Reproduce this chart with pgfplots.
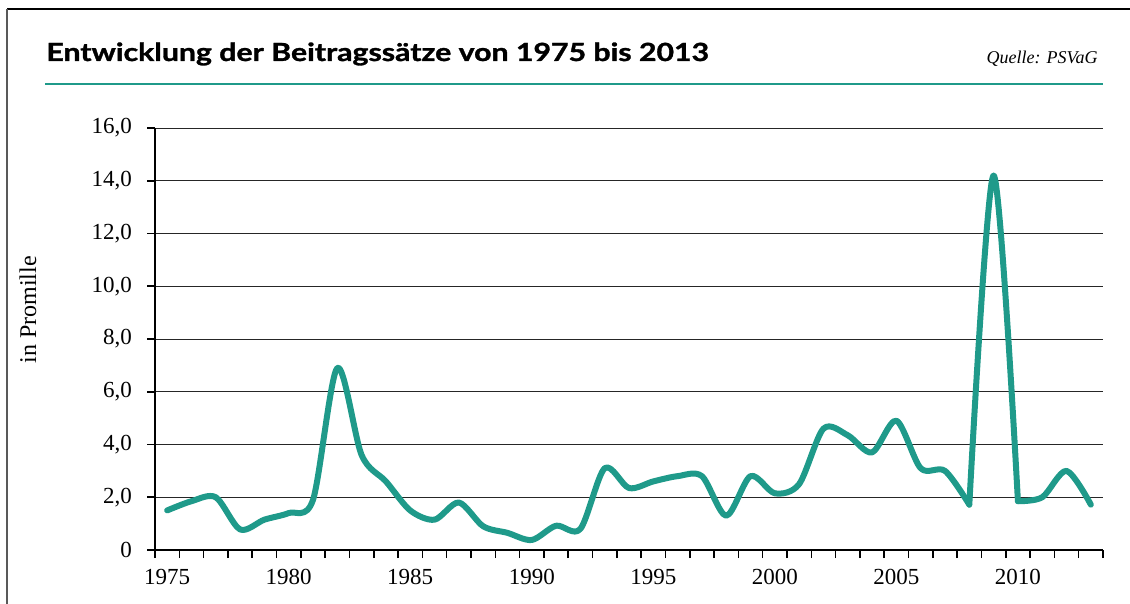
\documentclass[border=0pt]{standalone}
\usepackage{graphicx}
\usepackage{pgfplots}
\pgfplotsset{compat=1.18}
\usepackage{fontspec}
\setmainfont{Liberation Serif}
\newfontfamily\titlefont[BoldFeatures={FakeBold=1.2}]{Lato}
\definecolor{teal1}{RGB}{31,154,138}
\begin{document}
\begin{tikzpicture}
\begin{scope}[x=0.5pt,y=-0.5pt]
\path[use as bounding box] (0,0) rectangle (1130,604);
\draw[black, line width=0.8pt] (7,9) -- (1130,9);
\draw[black!65, line width=0.8pt] (7,9) -- (7,604);
\node[anchor=base west, inner sep=0, font=\titlefont\bfseries\fontsize{12.5}{14}\selectfont] at (46,61) {\scalebox{1.21}[1]{Entwicklung der Beitragssätze von 1975 bis 2013}};
\node[anchor=base east, inner sep=0, font=\itshape\fontsize{9}{11}\selectfont] at (1098,64) {Quelle: PSVaG};
\draw[teal1, line width=1pt] (45,84) -- (1103,84);
\end{scope}
\begin{axis}[
  at={(77.5pt,-275pt)}, anchor=south west,
  scale only axis, width=474pt, height=211pt,
  xmin=1974.5, xmax=2013.5, ymin=0, ymax=16,
  axis x line*=bottom, axis y line*=left,
  axis line style={black, line width=1pt, -},
  xtick={1975,1980,1985,1990,1995,2000,2005,2010},
  xticklabels={1975,1980,1985,1990,1995,2000,2005,2010},
  major x tick style={draw=none},
  minor xtick={1974.5,1975.5,...,2013.5},
  minor x tick style={black, line width=0.8pt},
  ytick={0,2,4,6,8,10,12,14,16},
  yticklabels={0,{2,0},{4,0},{6,0},{8,0},{10,0},{12,0},{14,0},{16,0}},
  y tick style={black, line width=0.8pt},
  tick align=outside, major tick length=4pt, minor tick length=4pt,
  ymajorgrids, major y grid style={black!85, line width=0.5pt},
  tick label style={font=\fontsize{11.5}{13}\selectfont},
  xticklabel style={yshift=-2pt},
  yticklabel style={xshift=-4pt},
  ylabel={in Promille},
  ylabel style={at={(axis description cs:-0.134,0.569)}, anchor=center, font=\fontsize{12}{14}\selectfont},
]
\addplot[teal1, line width=3pt, smooth, line join=round, line cap=round] coordinates {
(1975,1.5) (1976,1.85) (1977,2.0) (1978,0.78) (1979,1.15) (1980,1.4) (1981,1.9)
(1982,6.9) (1983,3.6) (1984,2.6) (1985,1.5) (1986,1.15) (1987,1.8) (1988,0.9)
(1989,0.65) (1990,0.38) (1991,0.92) (1992,0.8) (1993,3.1) (1994,2.35) (1995,2.6)
(1996,2.8) (1997,2.8) (1998,1.3) (1999,2.8) (2000,2.15) (2001,2.5) (2002,4.6)
(2003,4.35) (2004,3.7) (2005,4.9) (2006,3.1) (2007,3.0) (2008,1.72)
};
\addplot[teal1, line width=3pt, smooth, line join=round, line cap=round] coordinates {
(2008,1.72) (2009,14.2) (2010,1.85)
};
\addplot[teal1, line width=3pt, smooth, line join=round, line cap=round] coordinates {
(2010,1.85) (2011,2.0) (2012,3.0) (2013,1.72)
};
\end{axis}
\end{tikzpicture}
\end{document}
